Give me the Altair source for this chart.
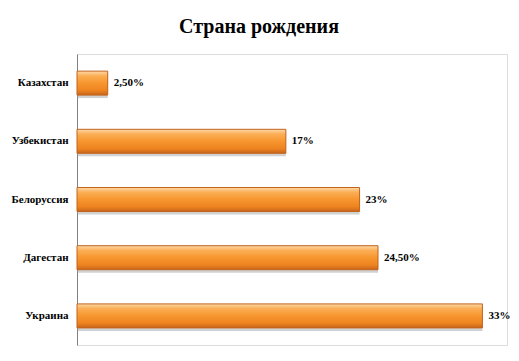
import altair as alt
import pandas as pd

countries = ["Казахстан", "Узбекистан", "Белоруссия", "Дагестан", "Украина"]
values = [2.5, 17, 23, 24.5, 33]
labels = ["2,50%", "17%", "23%", "24,50%", "33%"]
title_text = "Страна рождения"

df = pd.DataFrame({"country": countries, "value": values, "label": labels})

W, H = 430, 291
PL, PT, PR, PB = 69, 46, 4, 8
FONT = "Liberation Serif"

y_enc = alt.Y("country:N", sort=countries,
              scale=alt.Scale(paddingInner=0.588, paddingOuter=0.294),
              axis=alt.Axis(title=None, domain=True, domainColor="#808080", domainWidth=1,
                            ticks=False, grid=False, labelFont=FONT, labelFontSize=11,
                            labelFontWeight="bold", labelColor="#000000", labelPadding=9))
x_enc = alt.X("value:Q", scale=alt.Scale(domain=[0, 35], nice=False), axis=None)

base = alt.Chart(df)

shadow = base.mark_bar(color="#9a9a9a", opacity=0.45, yOffset=3).encode(x=x_enc, y=y_enc)

grad = alt.Gradient(
    gradient="linear", x1=0, x2=0, y1=0, y2=1,
    stops=[
        alt.GradientStop(color="#FDD9A8", offset=0),
        alt.GradientStop(color="#FBAE55", offset=0.2),
        alt.GradientStop(color="#F7962E", offset=0.5),
        alt.GradientStop(color="#EE8420", offset=0.8),
        alt.GradientStop(color="#C9651A", offset=1),
    ],
)
bars = base.mark_bar(color=grad, stroke="#C0641E", strokeWidth=1).encode(x=x_enc, y=y_enc)

text = base.mark_text(align="left", baseline="middle", dx=6, font=FONT, fontSize=11,
                      fontWeight="bold", color="#000000").encode(x=x_enc, y=y_enc, text="label:N")

title = alt.Chart(pd.DataFrame({"t": [title_text]})).mark_text(
    align="center", baseline="alphabetic", font=FONT, fontSize=20, fontWeight="bold", color="#000000"
).encode(x=alt.value(182), y=alt.value(-21), text="t:N")

chart = alt.layer(shadow, bars, text, title).properties(
    width=W, height=H,
    autosize=alt.AutoSizeParams(type="none"),
    padding={"left": PL, "top": PT, "right": PR, "bottom": PB},
).configure_view(stroke=None).configure(background="white")

chart.save("out.html", embed_options={"renderer": "svg", "actions": False})
